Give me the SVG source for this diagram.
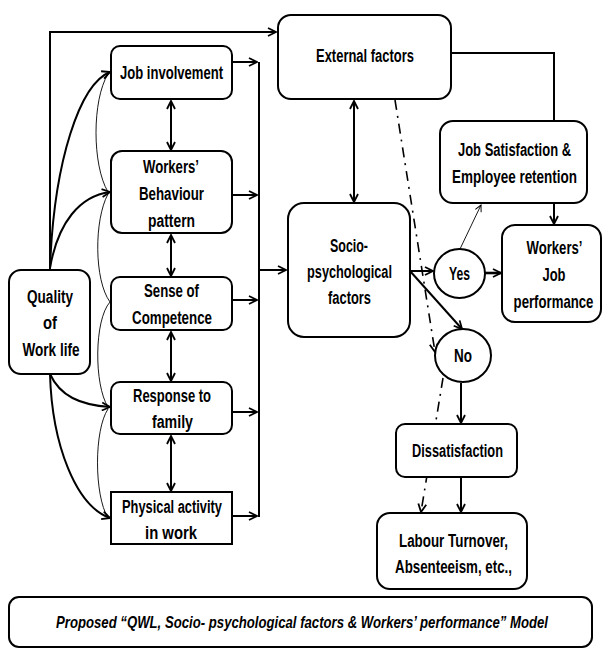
<svg xmlns="http://www.w3.org/2000/svg" width="603" height="649" viewBox="0 0 603 649">
<defs>
<style>
.box{fill:#fff;stroke:#000;stroke-width:2}
.t{font-family:"Liberation Sans",Arial,sans-serif;font-weight:bold;font-size:19px;text-anchor:middle;fill:#000}
.cap{font-family:"Liberation Sans",Arial,sans-serif;font-weight:bold;font-style:italic;font-size:16px;text-anchor:middle;fill:#000}
.c{fill:none;stroke:#000;stroke-width:2}
.thin{fill:none;stroke:#000;stroke-width:0.9}
.dd{fill:none;stroke:#000;stroke-width:1.6;stroke-dasharray:10 6 2 6}
</style>
<marker id="a" viewBox="0 0 10 10" refX="9" refY="5" markerWidth="10" markerHeight="10" markerUnits="userSpaceOnUse" orient="auto-start-reverse">
<path d="M1,1 L9,5 L1,9" fill="none" stroke="#000" stroke-width="1.8"/>
</marker>
<marker id="as" viewBox="0 0 10 10" refX="9" refY="5" markerWidth="8" markerHeight="8" markerUnits="userSpaceOnUse" orient="auto">
<path d="M1,1 L9,5 L1,9" fill="none" stroke="#000" stroke-width="1.2"/>
</marker>
</defs>
<rect width="603" height="649" fill="#fff"/>

<g id="connectors">
<path class="c" d="M50,270 V32 H276" marker-end="url(#a)"/>
<path class="c" d="M50,268 C54,160 80,84 110,72" marker-end="url(#a)"/>
<path class="c" d="M50,268 C58,222 80,196 110,192" marker-end="url(#a)"/>
<path class="c" d="M50,374 C60,396 80,405 110,407" marker-end="url(#a)"/>
<path class="c" d="M50,374 C52,445 76,506 110,518" marker-end="url(#a)"/>
<path class="thin" d="M108,74 C92,100 92,165 108,192"/>
<path class="thin" d="M108,194 C94,220 94,280 110,302"/>
<path class="thin" d="M110,302 C94,320 94,385 108,407"/>
<path class="thin" d="M108,409 C94,430 94,495 108,518"/>
<path class="c" d="M232,62 H257" marker-end="url(#a)"/>
<path class="c" d="M232,195 H257" marker-end="url(#a)"/>
<path class="c" d="M232,300 H257" marker-end="url(#a)"/>
<path class="c" d="M232,412 H257" marker-end="url(#a)"/>
<path class="c" d="M232,516 H257" marker-end="url(#a)"/>
<path class="c" d="M259,62 V517"/>
<path class="c" d="M259,270 H286" marker-end="url(#a)"/>
<path class="c" d="M171,101 V150" marker-start="url(#a)" marker-end="url(#a)"/>
<path class="c" d="M171,235 V276" marker-start="url(#a)" marker-end="url(#a)"/>
<path class="c" d="M171,332 V381" marker-start="url(#a)" marker-end="url(#a)"/>
<path class="c" d="M171,436 V491" marker-start="url(#a)" marker-end="url(#a)"/>
<path class="c" d="M354,101 V202" marker-start="url(#a)" marker-end="url(#a)"/>
<path class="c" d="M451,53 H554 V121"/>
<path class="c" d="M554,203 V224" marker-end="url(#a)"/>
<path class="c" d="M410,271 H433" marker-end="url(#a)"/>
<path class="c" d="M485,273 H501" marker-end="url(#a)" style="stroke-width:2.6"/>
<path class="thin" d="M460,249 L481,205" marker-end="url(#as)"/>
<path class="c" d="M410,271 L462,329" marker-end="url(#a)"/>
<path class="dd" d="M395,100 L435,352" marker-end="url(#a)"/>
<path class="dd" d="M443,378 L421,512" marker-end="url(#a)"/>
<path class="c" d="M461,383 V423" marker-end="url(#a)"/>
<path class="c" d="M461,478 V512" marker-end="url(#a)"/>
</g>

<g id="quality">
<rect class="box" x="9" y="270" width="81" height="104" rx="12"/>
<text class="t" transform="translate(50,303) scale(0.8,1)" textLength="57.5" lengthAdjust="spacingAndGlyphs">Quality</text>
<text class="t" transform="translate(50,329) scale(0.8,1)" textLength="17.5" lengthAdjust="spacingAndGlyphs">of</text>
<text class="t" transform="translate(51,356) scale(0.8,1)" textLength="71.25" lengthAdjust="spacingAndGlyphs">Work life</text>
</g>
<g id="job-involvement">
<rect class="box" x="111" y="46" width="121" height="53" rx="9"/>
<text class="t" transform="translate(171.5,79) scale(0.8,1)" textLength="128.75" lengthAdjust="spacingAndGlyphs">Job involvement</text>
</g>
<g id="behaviour">
<rect class="box" x="111" y="151" width="121" height="82" rx="11"/>
<text class="t" transform="translate(171,173) scale(0.8,1)" textLength="70" lengthAdjust="spacingAndGlyphs">Workers’</text>
<text class="t" transform="translate(171.5,200) scale(0.8,1)" textLength="81.25" lengthAdjust="spacingAndGlyphs">Behaviour</text>
<text class="t" transform="translate(171.5,227) scale(0.8,1)" textLength="58.75" lengthAdjust="spacingAndGlyphs">pattern</text>
</g>
<g id="competence">
<rect class="box" x="111" y="277" width="121" height="53" rx="9"/>
<text class="t" transform="translate(171.5,297) scale(0.8,1)" textLength="68.75" lengthAdjust="spacingAndGlyphs">Sense of</text>
<text class="t" transform="translate(172,324) scale(0.8,1)" textLength="100" lengthAdjust="spacingAndGlyphs">Competence</text>
</g>
<g id="family">
<rect class="box" x="111" y="382" width="121" height="52" rx="9"/>
<text class="t" transform="translate(172,402) scale(0.8,1)" textLength="97.5" lengthAdjust="spacingAndGlyphs">Response to</text>
<text class="t" transform="translate(172.5,428) scale(0.8,1)" textLength="51.25" lengthAdjust="spacingAndGlyphs">family</text>
</g>
<g id="physical">
<rect class="box" x="111" y="492" width="121" height="52"/>
<text class="t" transform="translate(172,513) scale(0.8,1)" textLength="125" lengthAdjust="spacingAndGlyphs">Physical activity</text>
<text class="t" transform="translate(171,539) scale(0.8,1)" textLength="65" lengthAdjust="spacingAndGlyphs">in work</text>
</g>
<g id="external">
<rect class="box" x="278" y="15" width="173" height="84" rx="13"/>
<text class="t" transform="translate(365,62) scale(0.8,1)" textLength="122.5" lengthAdjust="spacingAndGlyphs">External factors</text>
</g>
<g id="socio">
<rect class="box" x="288" y="203" width="122" height="134" rx="16"/>
<text class="t" transform="translate(349,252) scale(0.8,1)" textLength="47.5" lengthAdjust="spacingAndGlyphs">Socio-</text>
<text class="t" transform="translate(349.5,278) scale(0.8,1)" textLength="106.25" lengthAdjust="spacingAndGlyphs">psychological</text>
<text class="t" transform="translate(349.5,304) scale(0.8,1)" textLength="53.75" lengthAdjust="spacingAndGlyphs">factors</text>
</g>
<g id="job-satisfaction">
<rect class="box" x="440" y="121" width="147" height="82" rx="13"/>
<text class="t" transform="translate(514.5,156) scale(0.8,1)" textLength="141.25" lengthAdjust="spacingAndGlyphs">Job Satisfaction &amp;</text>
<text class="t" transform="translate(514.5,183) scale(0.8,1)" textLength="156.25" lengthAdjust="spacingAndGlyphs">Employee retention</text>
</g>
<g id="job-performance">
<rect class="box" x="502" y="225" width="99" height="97" rx="13"/>
<text class="t" transform="translate(554.5,254) scale(0.8,1)" textLength="70" lengthAdjust="spacingAndGlyphs">Workers’</text>
<text class="t" transform="translate(554,281) scale(0.8,1)" textLength="28.75" lengthAdjust="spacingAndGlyphs">Job</text>
<text class="t" transform="translate(553.5,308) scale(0.7,1)" textLength="114" lengthAdjust="spacingAndGlyphs">performance</text>
</g>
<g id="yes">
<ellipse class="box" cx="459.5" cy="273.5" rx="25.5" ry="24.5"/>
<text class="t" transform="translate(459.5,280) scale(0.8,1)" textLength="26.25" lengthAdjust="spacingAndGlyphs">Yes</text>
</g>
<g id="no">
<ellipse class="box" cx="463" cy="355.5" rx="28" ry="26.5"/>
<text class="t" transform="translate(463,362) scale(0.8,1)" textLength="22.5" lengthAdjust="spacingAndGlyphs">No</text>
</g>
<g id="dissatisfaction">
<rect class="box" x="396" y="424" width="121" height="53" rx="9"/>
<text class="t" transform="translate(457.5,457) scale(0.8,1)" textLength="113.75" lengthAdjust="spacingAndGlyphs">Dissatisfaction</text>
</g>
<g id="labour">
<rect class="box" x="377" y="513" width="150" height="76" rx="13"/>
<text class="t" transform="translate(453.5,547) scale(0.8,1)" textLength="136.25" lengthAdjust="spacingAndGlyphs">Labour Turnover,</text>
<text class="t" transform="translate(453.5,573) scale(0.8,1)" textLength="146.25" lengthAdjust="spacingAndGlyphs">Absenteeism, etc.,</text>
</g>
<g id="caption">
<rect class="box" x="9" y="597" width="583" height="50" rx="10"/>
<text class="cap" transform="translate(302,628) scale(0.8,1)" textLength="615" lengthAdjust="spacingAndGlyphs">Proposed “QWL, Socio- psychological factors  &amp; Workers’ performance” Model</text>
</g>
</svg>
